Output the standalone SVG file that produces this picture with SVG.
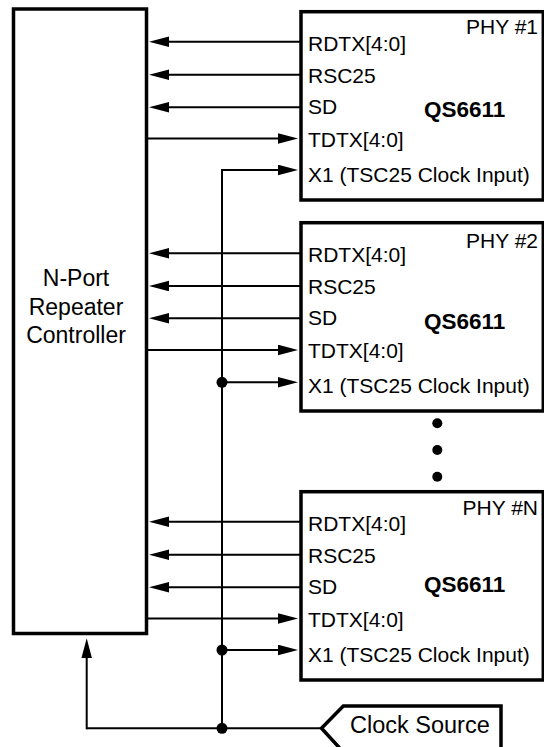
<svg xmlns="http://www.w3.org/2000/svg" width="544" height="747" viewBox="0 0 544 747">
<style>
.box{fill:#fff;stroke:#000;stroke-width:3.5}
.ln{fill:none;stroke:#000;stroke-width:2}
.t{font-family:"Liberation Sans",Arial,sans-serif;font-size:21px;fill:#000}
.b{font-family:"Liberation Sans",Arial,sans-serif;font-size:22.5px;font-weight:bold;fill:#000}
.c{font-family:"Liberation Sans",Arial,sans-serif;font-size:23px;fill:#000;text-anchor:middle}
.dot{fill:#000}
</style>
<defs>
<marker id="ah" markerUnits="userSpaceOnUse" markerWidth="20" markerHeight="11" refX="10" refY="5.3" orient="auto">
<path d="M0,0 L20,5.3 L0,10.6 z" fill="#000"/>
</marker>
</defs>
<rect width="544" height="747" fill="#fff"/>
<g id="controller">
<rect class="box" x="13.5" y="9" width="133" height="624.5"/>
<text class="c" x="76" y="286">N-Port</text>
<text class="c" x="76" y="315">Repeater</text>
<text class="c" x="76" y="343.3">Controller</text>
</g>
<g id="phy1">
<rect class="box" x="301" y="11.7" width="242.3" height="188.3"/>
<text class="t" x="538" y="34" text-anchor="end">PHY #1</text>
<text class="t" x="308" y="51.2">RDTX[4:0]</text>
<text class="t" x="308" y="83.4">RSC25</text>
<text class="t" x="308" y="114.3">SD</text>
<text class="t" x="308" y="146.7">TDTX[4:0]</text>
<text class="t" x="308" y="181.7">X1 (TSC25 Clock Input)</text>
<text class="b" x="424" y="116.7">QS6611</text>
</g>
<g id="phy2">
<rect class="box" x="301" y="222.7" width="242.3" height="188.3"/>
<text class="t" x="538" y="248" text-anchor="end">PHY #2</text>
<text class="t" x="308" y="262.2">RDTX[4:0]</text>
<text class="t" x="308" y="294.4">RSC25</text>
<text class="t" x="308" y="325.3">SD</text>
<text class="t" x="308" y="357.7">TDTX[4:0]</text>
<text class="t" x="308" y="392.7">X1 (TSC25 Clock Input)</text>
<text class="b" x="424" y="329">QS6611</text>
</g>
<g id="phyN">
<rect class="box" x="301" y="491.7" width="242.3" height="188.3"/>
<text class="t" x="538" y="515" text-anchor="end">PHY #N</text>
<text class="t" x="308" y="531.2">RDTX[4:0]</text>
<text class="t" x="308" y="563.4">RSC25</text>
<text class="t" x="308" y="594.3">SD</text>
<text class="t" x="308" y="626.7">TDTX[4:0]</text>
<text class="t" x="308" y="661.7">X1 (TSC25 Clock Input)</text>
<text class="b" x="424" y="591.7">QS6611</text>
</g>
<g id="ellipsis">
<circle class="dot" cx="437.3" cy="423.3" r="5"/>
<circle class="dot" cx="437.3" cy="450" r="5"/>
<circle class="dot" cx="437.3" cy="476.7" r="5"/>
</g>
<g id="clock-source">
<polygon class="box" points="321.5,728.3 343.3,706 501,706 501,752 343.3,752"/>
<text class="t" x="350" y="733" style="font-size:23.5px">Clock Source</text>
</g>
<g id="connectors">
<!-- PHY1 -->
<line class="ln" x1="301" y1="41.7" x2="159" y2="41.7" marker-end="url(#ah)"/>
<line class="ln" x1="301" y1="74.7" x2="159" y2="74.7" marker-end="url(#ah)"/>
<line class="ln" x1="301" y1="107.3" x2="159" y2="107.3" marker-end="url(#ah)"/>
<line class="ln" x1="148" y1="138.5" x2="288" y2="138.5" marker-end="url(#ah)"/>
<path class="ln" d="M222,170 H288" marker-end="url(#ah)"/>
<!-- PHY2 -->
<line class="ln" x1="301" y1="253.3" x2="159" y2="253.3" marker-end="url(#ah)"/>
<line class="ln" x1="301" y1="286" x2="159" y2="286" marker-end="url(#ah)"/>
<line class="ln" x1="301" y1="318.3" x2="159" y2="318.3" marker-end="url(#ah)"/>
<line class="ln" x1="148" y1="350" x2="288" y2="350" marker-end="url(#ah)"/>
<line class="ln" x1="222" y1="382.3" x2="288" y2="382.3" marker-end="url(#ah)"/>
<!-- PHYN -->
<line class="ln" x1="301" y1="521.7" x2="159" y2="521.7" marker-end="url(#ah)"/>
<line class="ln" x1="301" y1="554.7" x2="159" y2="554.7" marker-end="url(#ah)"/>
<line class="ln" x1="301" y1="587.3" x2="159" y2="587.3" marker-end="url(#ah)"/>
<line class="ln" x1="148" y1="618.5" x2="288" y2="618.5" marker-end="url(#ah)"/>
<line class="ln" x1="222" y1="650" x2="288" y2="650" marker-end="url(#ah)"/>
<!-- clock bus -->
<line class="ln" x1="222" y1="169" x2="222" y2="728.3"/>
<line class="ln" x1="321.5" y1="728.3" x2="86.7" y2="728.3"/>
<path class="ln" d="M86.7,729.3 V648.3" marker-end="url(#ah)"/>
<circle class="dot" cx="222" cy="382.3" r="5.5"/>
<circle class="dot" cx="222" cy="650" r="5.5"/>
<circle class="dot" cx="222" cy="728.3" r="5.5"/>
</g>
</svg>
